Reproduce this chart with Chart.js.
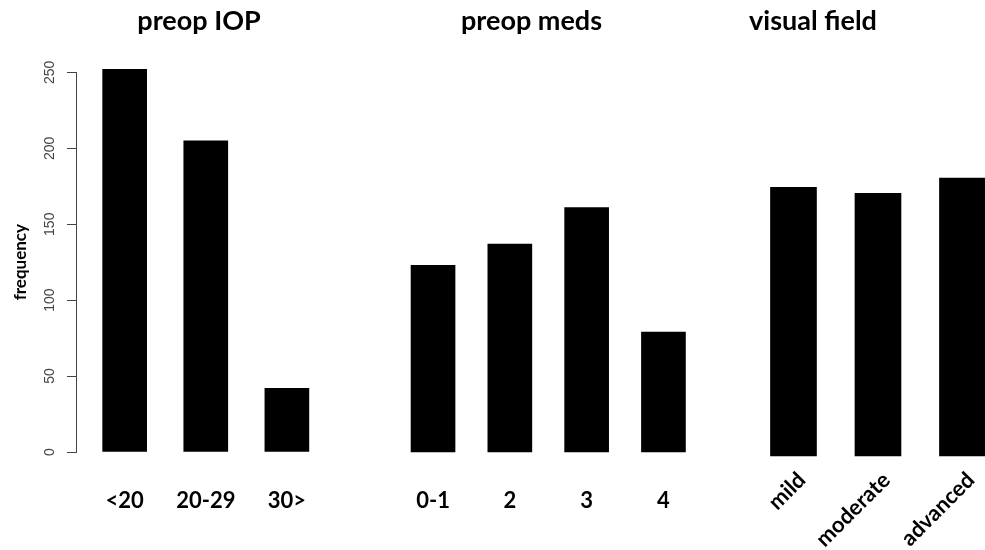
<!DOCTYPE html>
<html>
<head>
<meta charset="utf-8">
<script src="https://cdn.jsdelivr.net/npm/chart.js@4.4.1/dist/chart.umd.min.js"></script>
<style>
    html, body { margin: 0; padding: 0; background: #fff; overflow: hidden; width: 985px; height: 550px; }
    canvas { position: absolute; top: 0; }
</style>
</head>
<body>
<canvas id="iopChart" width="398" height="550" style="left:0px"></canvas>
<canvas id="medsChart" width="357" height="550" style="left:353px"></canvas>
<canvas id="fieldChart" width="400" height="550" style="left:613px"></canvas>
<script>
// values
const iopLabels = ['<20', '20-29', '30>'];
const iopCounts = [252, 205, 42];
const medsLabels = ['0-1', '2', '3', '4'];
const medsCounts = [123, 137, 161, 79];
const fieldLabels = ['mild', 'moderate', 'advanced'];
const fieldCounts = [177, 173, 183];
const yMin = 0;
const yMax = 250;
const yStep = 50;

const boldFont = size => ({ family: 'Lato', size: size, weight: 'bold' });

// one bar panel: bars sit on a hidden linear x scale, the names on a second
// x scale (same range, optionally nudged so rotated names end right of the bar)
function makePanel(id, title, labels, counts, cfg) {
    const ctx = document.getElementById(id).getContext('2d');
    const shift = cfg.labelShift || 0;
    const noPad = s => { s.paddingLeft = 0; s.paddingRight = 0; };
    return new Chart(ctx, {
        type: 'bar',
        data: {
            datasets: [{
                xAxisID: 'x',
                yAxisID: 'y',
                data: counts.map((v, i) => ({ x: i + 1, y: v })),
                backgroundColor: '#000',
                borderWidth: 0,
                barThickness: cfg.barWidth,
                clip: false
            }]
        },
        options: {
            responsive: false,
            animation: false,
            events: [],
            layout: { padding: 0 },
            plugins: {
                legend: { display: false },
                tooltip: { enabled: false },
                title: {
                    display: true,
                    text: title,
                    color: '#000',
                    font: boldFont(27),
                    padding: { top: 5, bottom: cfg.titleGap }
                }
            },
            scales: {
                x: {
                    type: 'linear',
                    offset: false,
                    display: false,
                    bounds: 'data',
                    min: cfg.xMin,
                    max: cfg.xMax,
                    afterFit: noPad
                },
                xNames: {
                    type: 'linear',
                    axis: 'x',
                    position: 'bottom',
                    offset: false,
                    bounds: 'data',
                    min: cfg.xMin - shift,
                    max: cfg.xMax - shift,
                    grid: { display: false },
                    border: { display: false },
                    afterBuildTicks: s => { s.ticks = labels.map((_, i) => ({ value: i + 1 })); },
                    afterFit: s => { s.height = cfg.xHeight; noPad(s); },
                    ticks: {
                        autoSkip: false,
                        minRotation: cfg.rot,
                        maxRotation: cfg.rot,
                        padding: cfg.labelPad,
                        color: '#000',
                        font: boldFont(22),
                        callback: v => labels[Math.round(v) - 1] ?? ''
                    }
                },
                y: cfg.showY ? {
                    min: yMin,
                    max: yMax,
                    afterFit: s => { s.width = 76; },
                    border: { display: true, color: '#444', width: 1 },
                    grid: { display: true, drawOnChartArea: false, drawTicks: true, tickLength: 9, color: '#444' },
                    ticks: {
                        stepSize: yStep,
                        minRotation: 90,
                        maxRotation: 90,
                        crossAlign: 'center',
                        padding: 5,
                        color: '#444',
                        font: { family: 'Liberation Sans', size: 14 }
                    },
                    title: {
                        display: true,
                        text: 'frequency',
                        color: '#000',
                        font: boldFont(17),
                        padding: { top: 10, bottom: 0 }
                    }
                } : { display: false, min: yMin, max: yMax }
            }
        }
    });
}

makePanel('iopChart', 'preop IOP', iopLabels, iopCounts, {
    showY: true, xMin: 0.4, xMax: 4.37, barWidth: 44,
    titleGap: 35, xHeight: 98, rot: 0, labelPad: 28
});
makePanel('medsChart', 'preop meds', medsLabels, medsCounts, {
    showY: false, xMin: -0.042, xMax: 4.606, barWidth: 44,
    titleGap: 35, xHeight: 98, rot: 0, labelPad: 28
});
makePanel('fieldChart', 'visual field', fieldLabels, fieldCounts, {
    showY: false, xMin: -1.136, xMax: 3.598, barWidth: 46,
    titleGap: 39, xHeight: 94, rot: 45, labelPad: 3, labelShift: 0.1
});
</script>
</body>
</html>
